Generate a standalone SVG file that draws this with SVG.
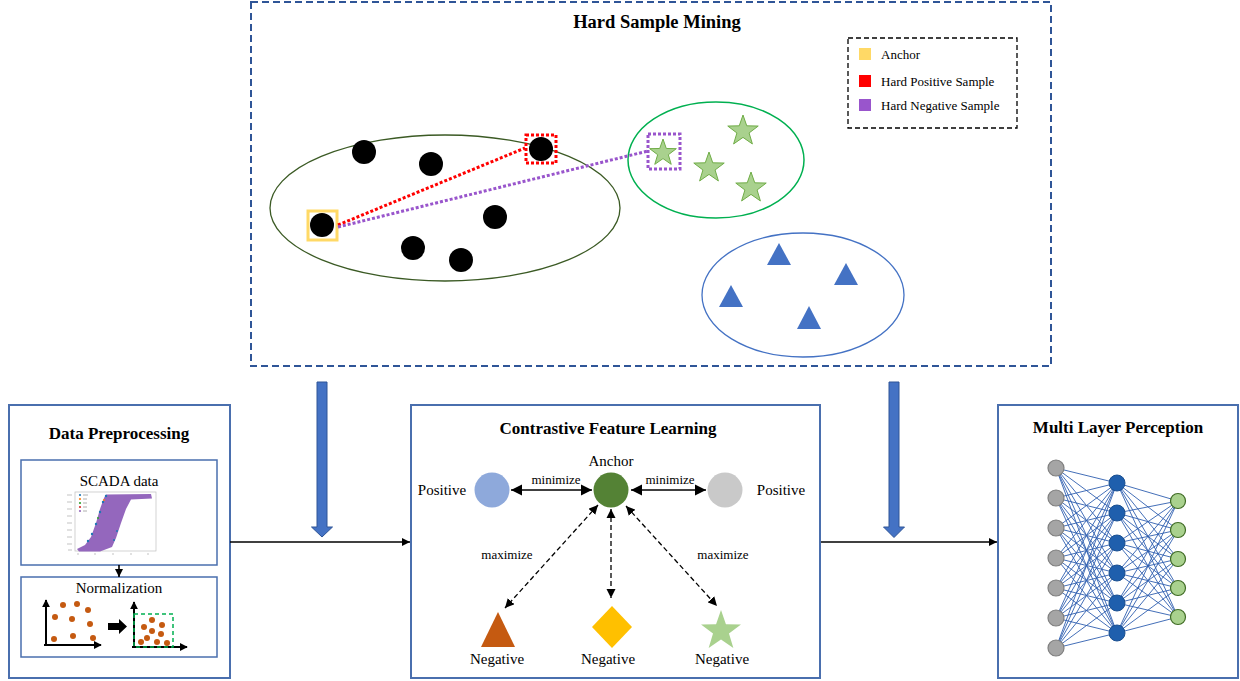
<svg xmlns="http://www.w3.org/2000/svg" width="1240" height="681" viewBox="0 0 1240 681">
  <style>
    .title { font-family: "Liberation Serif", "Times New Roman", serif; font-weight: bold; font-size: 17px; fill: #000; text-anchor: middle; }
    .lbl { font-family: "Liberation Serif", "Times New Roman", serif; font-size: 15px; fill: #000; text-anchor: middle; }
    .small { font-family: "Liberation Serif", "Times New Roman", serif; font-size: 13px; fill: #000; text-anchor: middle; }
    .leg { font-family: "Liberation Serif", "Times New Roman", serif; font-size: 13px; fill: #000; }
    .panel { fill: #fff; stroke: #4A6FAE; stroke-width: 2; }
    .sub { fill: #fff; stroke: #4A6FAE; stroke-width: 1.5; }
    .dot { fill: #000; }
    .odot { fill: #C55A11; }
    .star { fill: #A9D18E; stroke: #70AD47; stroke-width: 1; }
    .tri { fill: #4472C4; }
    .conn { fill: none; stroke: #000; stroke-width: 1.6; }
    .dash { fill: none; stroke: #000; stroke-width: 1.3; stroke-dasharray: 5 3; }
    .big { fill: #4472C4; stroke: #2F5597; stroke-width: 1; }
    .net { fill: none; stroke: #2F5FB0; stroke-width: 0.9; }
    .in { fill: #A5A5A5; stroke: #7F7F7F; stroke-width: 1.2; }
    .hid { fill: #1F5FAD; stroke: #1A4F90; stroke-width: 1; }
    .out { fill: #A9D18E; stroke: #3F6B24; stroke-width: 1.2; }
    .ax { fill: none; stroke: #000; stroke-width: 2; }
  </style>
  <defs>
    <marker id="ah" viewBox="0 0 10 10" refX="10" refY="5" markerWidth="5" markerHeight="5" orient="auto-start-reverse" markerUnits="strokeWidth">
      <path d="M0,0 L10,5 L0,10 z" fill="#000"/>
    </marker>
    <marker id="ahd" viewBox="0 0 10 10" refX="10" refY="5" markerWidth="7" markerHeight="7" orient="auto-start-reverse" markerUnits="strokeWidth">
      <path d="M0,0 L10,5 L0,10 z" fill="#000"/>
    </marker>
    <marker id="axh" viewBox="0 0 10 10" refX="9" refY="5" markerWidth="4" markerHeight="4" orient="auto" markerUnits="strokeWidth">
      <path d="M0,0 L10,5 L0,10 z" fill="#000"/>
    </marker>
    <polygon id="starShape" points="0,-1 0.2351,-0.3236 0.9511,-0.309 0.3804,0.1236 0.5878,0.809 0,0.4 -0.5878,0.809 -0.3804,0.1236 -0.9511,-0.309 -0.2351,-0.3236"/>
  </defs>

  <rect width="1240" height="681" fill="#fff"/>

  <!-- Hard sample mining panel -->
  <g id="hard-sample-mining">
    <rect x="251" y="2" width="800" height="364" fill="none" stroke="#2F5597" stroke-width="2" stroke-dasharray="7 4"/>
    <text class="title" x="657" y="28" style="font-size:18.5px">Hard Sample Mining</text>

    <g id="legend">
      <rect x="848" y="38" width="169" height="90" fill="#fff" stroke="#000" stroke-width="1.3" stroke-dasharray="5 3"/>
      <rect x="859" y="48" width="12" height="12" fill="#FFD966"/>
      <text class="leg" x="881" y="59">Anchor</text>
      <rect x="859" y="75" width="12" height="12" fill="#FF0000"/>
      <text class="leg" x="881" y="86">Hard Positive Sample</text>
      <rect x="859" y="99" width="12" height="12" fill="#9955CC"/>
      <text class="leg" x="881" y="110">Hard Negative Sample</text>
    </g>

    <g id="cluster-circles">
      <ellipse cx="445" cy="208" rx="175" ry="73" fill="none" stroke="#3B5A24" stroke-width="1.3"/>
      <circle class="dot" cx="364" cy="152" r="12"/>
      <circle class="dot" cx="431" cy="164" r="12"/>
      <circle class="dot" cx="541" cy="149" r="12"/>
      <circle class="dot" cx="495" cy="217" r="12"/>
      <circle class="dot" cx="322" cy="225" r="12"/>
      <circle class="dot" cx="413" cy="248" r="12"/>
      <circle class="dot" cx="461" cy="260" r="12"/>
      <rect x="308" y="211" width="29" height="29" fill="none" stroke="#FFD966" stroke-width="3"/>
      <rect x="526" y="135" width="30" height="28" fill="none" stroke="#FF0000" stroke-width="3" stroke-dasharray="3 2"/>
    </g>

    <g id="cluster-stars">
      <ellipse cx="716" cy="160" rx="88" ry="58" fill="none" stroke="#00B050" stroke-width="1.5"/>
      <polygon class="star" points="663,139 666.29,148.47 676.32,148.67 668.33,154.73 671.23,164.33 663,158.6 654.77,164.33 657.67,154.73 649.68,148.67 659.71,148.47"/>
      <polygon class="star" points="743,115 746.76,125.82 758.22,126.06 749.09,132.98 752.4,143.94 743,137.4 733.6,143.94 736.91,132.98 727.78,126.06 739.24,125.82"/>
      <polygon class="star" points="709,152 712.76,162.82 724.22,163.06 715.09,169.98 718.4,180.94 709,174.4 699.6,180.94 702.91,169.98 693.78,163.06 705.24,162.82"/>
      <polygon class="star" points="751,172 754.76,182.82 766.22,183.06 757.09,189.98 760.4,200.94 751,194.4 741.6,200.94 744.91,189.98 735.78,183.06 747.24,182.82"/>
      <rect x="648" y="134" width="32" height="35" fill="none" stroke="#9955CC" stroke-width="3" stroke-dasharray="3 2"/>
    </g>

    <g id="cluster-triangles">
      <ellipse cx="803" cy="295" rx="101" ry="62" fill="none" stroke="#4472C4" stroke-width="1.3"/>
      <polygon class="tri" points="779,243 791,265 767,265"/>
      <polygon class="tri" points="846,263 858,285 834,285"/>
      <polygon class="tri" points="731,285 743,307 719,307"/>
      <polygon class="tri" points="809,306 821,329 797,329"/>
    </g>

    <g id="mining-links">
      <line x1="338" y1="225" x2="525" y2="148" stroke="#FF0000" stroke-width="3" stroke-dasharray="3 2"/>
      <line x1="338" y1="227" x2="648" y2="151" stroke="#9955CC" stroke-width="3" stroke-dasharray="3 2"/>
    </g>
  </g>

  <!-- Data preprocessing panel -->
  <g id="data-preprocessing">
    <rect class="panel" x="9" y="405" width="221" height="273"/>
    <text class="title" x="119" y="439">Data Preprocessing</text>

    <g id="scada-data">
      <rect class="sub" x="21" y="460" width="196" height="105"/>
      <text class="lbl" x="119" y="486">SCADA data</text>
      <!-- small scatter plot of power against wind speed -->
      <rect x="75" y="492" width="81" height="59" fill="#fff" stroke="#BFBFBF" stroke-width="0.7"/>
      <g stroke="#9A9A9A" stroke-width="0.6">
        <line x1="67" y1="495" x2="72" y2="495"/>
        <line x1="67" y1="502" x2="72" y2="502"/>
        <line x1="67" y1="509" x2="72" y2="509"/>
        <line x1="67" y1="516" x2="72" y2="516"/>
        <line x1="67" y1="523" x2="72" y2="523"/>
        <line x1="67" y1="530" x2="72" y2="530"/>
        <line x1="67" y1="537" x2="72" y2="537"/>
        <line x1="67" y1="544" x2="72" y2="544"/>
        <line x1="68" y1="550" x2="72" y2="550"/>
        <line x1="77" y1="554" x2="79" y2="554"/>
        <line x1="94" y1="554" x2="96" y2="554"/>
        <line x1="112" y1="554" x2="114" y2="554"/>
        <line x1="130" y1="554" x2="132" y2="554"/>
        <line x1="147" y1="554" x2="149" y2="554"/>
      </g>
      <path d="M77,549 L85,545 L91,537 L96,523 L100,509 L104,498 L106,494.5 L151,494 L152,498.5 L131,499.5 L126,509 L121,523 L116,538 L112,547 L100,551.5 L79,551.5 Z" fill="#9467BD"/>
      <g fill="#1F77B4">
        <circle cx="106" cy="496" r="1.2"/>
        <circle cx="103" cy="502" r="1.2"/>
        <circle cx="100" cy="512" r="1.2"/>
        <circle cx="96" cy="524" r="1.2"/>
        <circle cx="92" cy="534" r="1.2"/>
        <circle cx="88" cy="541" r="1.2"/>
        <circle cx="117" cy="531" r="1"/>
        <circle cx="114" cy="540" r="1"/>
      </g>
      <circle cx="104" cy="500" r="1" fill="#FF7F0E"/>
      <circle cx="98" cy="518" r="1" fill="#2CA02C"/>
      <g>
        <circle cx="80" cy="495" r="1.1" fill="#1F77B4"/>
        <circle cx="80" cy="499" r="1.1" fill="#FF7F0E"/>
        <circle cx="80" cy="503" r="1.1" fill="#2CA02C"/>
        <circle cx="80" cy="507" r="1.1" fill="#D62728"/>
        <circle cx="80" cy="511" r="1.1" fill="#9467BD"/>
        <g stroke="#9A9A9A" stroke-width="0.8">
          <line x1="83" y1="495" x2="88" y2="495"/>
          <line x1="83" y1="499" x2="87" y2="499"/>
          <line x1="83" y1="503" x2="87" y2="503"/>
          <line x1="83" y1="507" x2="87" y2="507"/>
          <line x1="83" y1="511" x2="87" y2="511"/>
        </g>
      </g>
    </g>

    <g id="normalization">
      <rect class="sub" x="21" y="577" width="196" height="80"/>
      <text class="lbl" x="119" y="593">Normalization</text>
      <line class="ax" x1="46" y1="645" x2="46" y2="600" marker-end="url(#axh)"/>
      <line class="ax" x1="44" y1="645" x2="101" y2="645" marker-end="url(#axh)"/>
      <circle class="odot" cx="63" cy="605" r="3"/>
      <circle class="odot" cx="77" cy="604" r="3"/>
      <circle class="odot" cx="88" cy="610" r="3"/>
      <circle class="odot" cx="55" cy="617" r="3"/>
      <circle class="odot" cx="72" cy="619" r="3"/>
      <circle class="odot" cx="90" cy="624" r="3"/>
      <circle class="odot" cx="54" cy="639" r="3"/>
      <circle class="odot" cx="73" cy="636" r="3"/>
      <circle class="odot" cx="93" cy="638" r="3"/>
      <polygon points="108,623 119,623 119,619 127,626.5 119,634 119,630 108,630" fill="#000"/>
      <line class="ax" x1="134" y1="647" x2="134" y2="602" marker-end="url(#axh)"/>
      <line class="ax" x1="132" y1="647" x2="187" y2="647" marker-end="url(#axh)"/>
      <rect x="134" y="614" width="39" height="33" fill="none" stroke="#00B050" stroke-width="1.5" stroke-dasharray="4 3"/>
      <circle class="odot" cx="152" cy="620" r="3"/>
      <circle class="odot" cx="144" cy="627" r="3"/>
      <circle class="odot" cx="152" cy="631" r="3"/>
      <circle class="odot" cx="162" cy="625" r="3"/>
      <circle class="odot" cx="161" cy="634" r="3"/>
      <circle class="odot" cx="147" cy="638" r="3"/>
      <circle class="odot" cx="141" cy="642" r="3"/>
      <circle class="odot" cx="157" cy="642" r="3"/>
      <circle class="odot" cx="167" cy="643" r="3"/>
    </g>
    <line class="conn" x1="119" y1="565" x2="119" y2="577" stroke-width="1.3" marker-end="url(#ah)"/>
  </g>

  <!-- Contrastive feature learning panel -->
  <g id="contrastive-learning">
    <rect class="panel" x="411" y="405" width="409" height="273"/>
    <text class="title" x="608" y="434">Contrastive Feature Learning</text>
    <text class="lbl" x="611" y="466">Anchor</text>
    <circle cx="611" cy="490" r="17.5" fill="#548235"/>
    <circle cx="492" cy="490" r="17.5" fill="#8EA9DB"/>
    <circle cx="725" cy="490" r="17.5" fill="#C9C9C9"/>
    <text class="lbl" x="442" y="495">Positive</text>
    <text class="lbl" x="781" y="495">Positive</text>
    <text class="small" x="556" y="484">minimize</text>
    <text class="small" x="670" y="484">minimize</text>
    <text class="small" x="507" y="559">maximize</text>
    <text class="small" x="723" y="559">maximize</text>
    <line class="conn" x1="511" y1="490" x2="592" y2="490" stroke-width="1.3" marker-start="url(#ahd)" marker-end="url(#ahd)"/>
    <line class="conn" x1="631" y1="490" x2="706" y2="490" stroke-width="1.3" marker-start="url(#ahd)" marker-end="url(#ahd)"/>
    <line class="dash" x1="598" y1="505" x2="505" y2="608" marker-start="url(#ahd)" marker-end="url(#ahd)"/>
    <line class="dash" x1="611" y1="509" x2="611" y2="598" marker-start="url(#ahd)" marker-end="url(#ahd)"/>
    <line class="dash" x1="626" y1="506" x2="717" y2="606" marker-start="url(#ahd)" marker-end="url(#ahd)"/>
    <polygon points="498,612 515,647 481,647" fill="#C55A11"/>
    <polygon points="612,606 632,627 612,648 592,627" fill="#FFC000"/>
    <use href="#starShape" fill="#A9D18E" transform="translate(721,631) scale(21)"/>
    <text class="lbl" x="497" y="664">Negative</text>
    <text class="lbl" x="608" y="664">Negative</text>
    <text class="lbl" x="722" y="664">Negative</text>
  </g>

  <!-- Multi layer perception panel -->
  <g id="mlp">
    <rect class="panel" x="998" y="405" width="240" height="273"/>
    <text class="title" x="1118" y="433">Multi Layer Perception</text>
    <path class="net" d="M1056 468L1117 483M1056 468L1117 513M1056 468L1117 543M1056 468L1117 573M1056 468L1117 603M1056 468L1117 633
M1056 498L1117 483M1056 498L1117 513M1056 498L1117 543M1056 498L1117 573M1056 498L1117 603M1056 498L1117 633
M1056 528L1117 483M1056 528L1117 513M1056 528L1117 543M1056 528L1117 573M1056 528L1117 603M1056 528L1117 633
M1056 558L1117 483M1056 558L1117 513M1056 558L1117 543M1056 558L1117 573M1056 558L1117 603M1056 558L1117 633
M1056 588L1117 483M1056 588L1117 513M1056 588L1117 543M1056 588L1117 573M1056 588L1117 603M1056 588L1117 633
M1056 618L1117 483M1056 618L1117 513M1056 618L1117 543M1056 618L1117 573M1056 618L1117 603M1056 618L1117 633
M1056 648L1117 483M1056 648L1117 513M1056 648L1117 543M1056 648L1117 573M1056 648L1117 603M1056 648L1117 633"/>
    <path class="net" d="M1117 483L1178 501M1117 483L1178 530M1117 483L1178 559M1117 483L1178 588M1117 483L1178 617
M1117 513L1178 501M1117 513L1178 530M1117 513L1178 559M1117 513L1178 588M1117 513L1178 617
M1117 543L1178 501M1117 543L1178 530M1117 543L1178 559M1117 543L1178 588M1117 543L1178 617
M1117 573L1178 501M1117 573L1178 530M1117 573L1178 559M1117 573L1178 588M1117 573L1178 617
M1117 603L1178 501M1117 603L1178 530M1117 603L1178 559M1117 603L1178 588M1117 603L1178 617
M1117 633L1178 501M1117 633L1178 530M1117 633L1178 559M1117 633L1178 588M1117 633L1178 617"/>
    <circle class="in" cx="1056" cy="468" r="8"/>
    <circle class="in" cx="1056" cy="498" r="8"/>
    <circle class="in" cx="1056" cy="528" r="8"/>
    <circle class="in" cx="1056" cy="558" r="8"/>
    <circle class="in" cx="1056" cy="588" r="8"/>
    <circle class="in" cx="1056" cy="618" r="8"/>
    <circle class="in" cx="1056" cy="648" r="8"/>
    <circle class="hid" cx="1117" cy="483" r="8"/>
    <circle class="hid" cx="1117" cy="513" r="8"/>
    <circle class="hid" cx="1117" cy="543" r="8"/>
    <circle class="hid" cx="1117" cy="573" r="8"/>
    <circle class="hid" cx="1117" cy="603" r="8"/>
    <circle class="hid" cx="1117" cy="633" r="8"/>
    <circle class="out" cx="1178" cy="501" r="7.5"/>
    <circle class="out" cx="1178" cy="530" r="7.5"/>
    <circle class="out" cx="1178" cy="559" r="7.5"/>
    <circle class="out" cx="1178" cy="588" r="7.5"/>
    <circle class="out" cx="1178" cy="617" r="7.5"/>
  </g>

  <!-- Connectors between stages -->
  <g id="connectors">
    <line class="conn" x1="230" y1="542" x2="410" y2="542" marker-end="url(#ah)"/>
    <line class="conn" x1="821" y1="542" x2="997" y2="542" marker-end="url(#ah)"/>
    <polygon class="big" points="317,382 327,382 327,527 332.5,527 322,537 311.5,527 317,527"/>
    <polygon class="big" points="889,382 899,382 899,527 904.5,527 894,537.5 883.5,527 889,527"/>
  </g>
</svg>
